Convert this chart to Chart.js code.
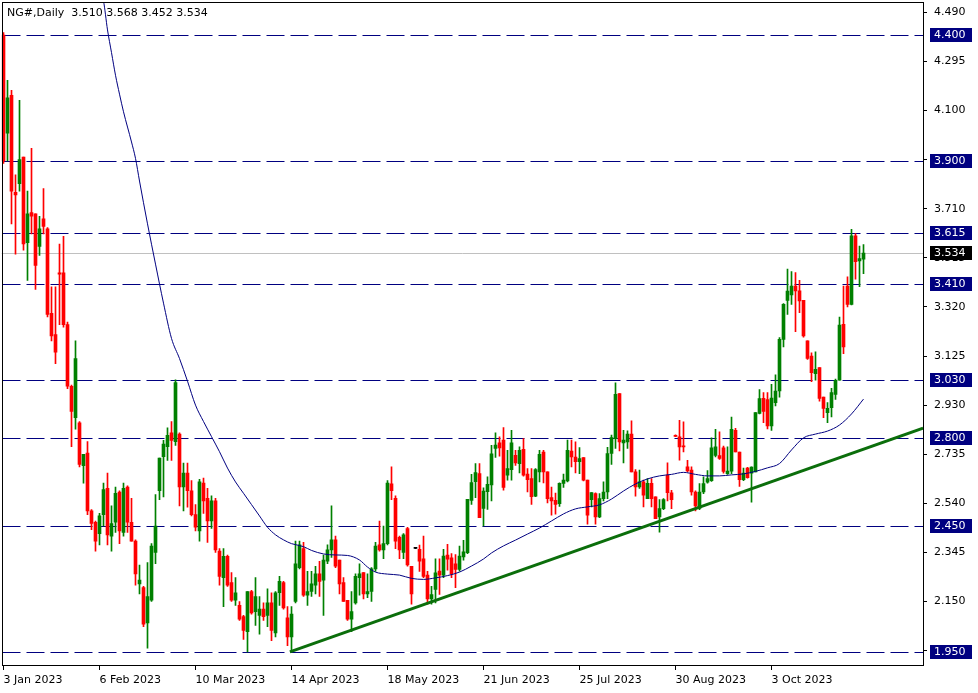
<!DOCTYPE html>
<html>
<head>
<meta charset="utf-8">
<script src="https://cdn.jsdelivr.net/npm/chart.js@4.4.0/dist/chart.umd.min.js"></script>
<style>
  html, body { margin: 0; padding: 0; background: #fff; }
  #wrap { width: 978px; height: 693px; }
</style>
</head>
<body>
<div id="wrap"><canvas id="chart"></canvas></div>
<script>
// daily bars, index 0 = 3 Jan 2023
const opens = [
  4.400,4.010,4.160,3.775,3.810,3.915,3.575,3.695,3.690,3.560,
  3.670,3.630,3.295,3.210,3.455,3.455,3.250,3.005,2.880,2.860,
  2.690,2.740,2.510,2.465,2.420,2.495,2.600,2.410,2.465,2.585,
  2.425,2.605,2.465,2.390,2.220,2.205,2.065,2.155,2.345,2.590,
  2.725,2.765,2.820,2.785,2.815,2.605,2.660,2.590,2.495,2.430,
  2.620,2.560,2.470,2.550,2.350,2.245,2.330,2.225,2.155,2.135,
  2.090,2.030,2.190,2.110,2.095,2.120,2.095,2.145,2.025,2.185,
  2.225,2.085,2.010,2.150,2.285,2.360,2.175,2.190,2.215,2.260,
  2.235,2.310,2.355,2.395,2.315,2.225,2.155,2.080,2.145,2.245,
  2.265,2.180,2.190,2.280,2.375,2.355,2.380,2.617,2.560,2.405,
  2.345,2.440,2.290,2.361,2.357,2.320,2.255,2.160,2.198,2.271,
  2.255,2.335,2.324,2.300,2.278,2.327,2.344,2.552,2.626,2.658,
  2.520,2.586,2.613,2.758,2.780,2.791,2.652,2.674,2.731,2.698,
  2.754,2.656,2.638,2.568,2.665,2.744,2.665,2.563,2.552,2.539,
  2.619,2.629,2.748,2.724,2.705,2.722,2.632,2.555,2.579,2.486,
  2.559,2.585,2.738,2.797,2.976,2.780,2.784,2.815,2.665,2.605,
  2.625,2.559,2.619,2.566,2.486,2.519,2.652,2.582,2.810,2.804,
  2.767,2.685,2.672,2.585,2.520,2.585,2.624,2.630,2.730,2.730,
  2.760,2.658,2.668,2.830,2.744,2.634,2.680,2.660,2.665,2.897,
  2.957,2.952,2.847,2.940,2.986,3.191,3.346,3.368,3.403,3.384,
  3.346,3.185,3.125,3.055,3.079,2.962,2.900,2.920,2.973,3.029,
  3.251,3.403,3.330,3.602,3.503,3.510
];
const highs = [
  4.410,4.220,4.180,3.845,4.140,3.915,3.780,3.950,3.690,3.680,
  3.790,3.635,3.400,3.400,3.570,3.600,3.260,3.010,3.185,2.865,
  2.735,2.785,2.515,2.470,2.500,2.620,2.660,2.530,2.605,2.590,
  2.620,2.610,2.560,2.395,2.295,2.210,2.305,2.380,2.575,2.720,
  2.790,2.840,2.865,3.030,2.820,2.700,2.700,2.630,2.535,2.635,
  2.640,2.600,2.570,2.560,2.360,2.360,2.335,2.265,2.245,2.150,
  2.095,2.190,2.195,2.245,2.170,2.145,2.200,2.185,2.190,2.250,
  2.230,2.130,2.130,2.390,2.390,2.385,2.270,2.270,2.290,2.310,
  2.335,2.375,2.530,2.410,2.315,2.245,2.155,2.190,2.260,2.300,
  2.265,2.260,2.285,2.385,2.470,2.450,2.630,2.685,2.570,2.410,
  2.420,2.445,2.290,2.362,2.374,2.410,2.270,2.210,2.320,2.320,
  2.357,2.377,2.340,2.337,2.370,2.393,2.556,2.655,2.698,2.698,
  2.602,2.645,2.770,2.820,2.804,2.841,2.751,2.830,2.751,2.764,
  2.797,2.678,2.678,2.678,2.751,2.751,2.665,2.605,2.581,2.621,
  2.656,2.791,2.791,2.784,2.761,2.722,2.632,2.583,2.582,2.579,
  2.625,2.762,2.811,3.019,2.976,2.830,2.828,2.868,2.674,2.672,
  2.632,2.638,2.638,2.566,2.555,2.559,2.701,2.592,2.812,2.870,
  2.864,2.711,2.685,2.590,2.618,2.645,2.670,2.800,2.834,2.824,
  2.767,2.764,2.883,2.838,2.744,2.680,2.683,2.685,2.900,2.992,
  2.980,2.980,3.013,3.050,3.198,3.333,3.470,3.460,3.456,3.426,
  3.346,3.185,3.138,3.142,3.079,2.962,2.940,2.997,3.033,3.280,
  3.403,3.440,3.628,3.611,3.562,3.568
];
const lows = [
  3.890,3.900,3.650,3.530,3.780,3.545,3.425,3.610,3.390,3.525,
  3.610,3.280,3.185,3.095,3.250,3.240,2.995,2.765,2.835,2.685,
  2.620,2.495,2.435,2.350,2.375,2.450,2.375,2.350,2.425,2.380,
  2.410,2.425,2.390,2.215,2.180,2.050,1.965,2.150,2.300,2.555,
  2.565,2.710,2.710,2.770,2.530,2.510,2.525,2.490,2.430,2.390,
  2.500,2.385,2.440,2.345,2.215,2.130,2.210,2.150,2.135,2.075,
  2.000,1.950,2.100,2.055,2.020,2.075,2.050,1.995,2.010,2.135,
  2.120,1.975,1.955,2.145,2.280,2.170,2.135,2.170,2.180,2.170,
  2.095,2.300,2.325,2.285,2.180,2.150,2.075,2.030,2.140,2.175,
  2.160,2.165,2.150,2.270,2.350,2.320,2.375,2.555,2.360,2.320,
  2.320,2.290,2.140,2.360,2.270,2.245,2.140,2.140,2.145,2.178,
  2.245,2.275,2.245,2.205,2.271,2.314,2.340,2.536,2.563,2.483,
  2.450,2.516,2.550,2.722,2.727,2.592,2.632,2.632,2.691,2.661,
  2.648,2.585,2.536,2.566,2.625,2.621,2.542,2.493,2.497,2.528,
  2.603,2.625,2.685,2.661,2.658,2.629,2.457,2.526,2.457,2.483,
  2.550,2.559,2.695,2.758,2.748,2.701,2.758,2.665,2.568,2.599,
  2.526,2.559,2.526,2.479,2.426,2.515,2.550,2.519,2.805,2.711,
  2.744,2.665,2.572,2.510,2.515,2.578,2.620,2.627,2.724,2.714,
  2.660,2.655,2.658,2.744,2.607,2.630,2.640,2.545,2.665,2.895,
  2.860,2.836,2.830,2.927,2.962,3.161,3.290,3.330,3.222,3.297,
  3.200,3.112,3.023,3.029,2.946,2.880,2.860,2.883,2.953,3.029,
  3.134,3.320,3.328,3.430,3.400,3.452
];
const closes = [
  3.900,4.150,3.780,3.765,3.905,3.570,3.690,3.680,3.485,3.630,
  3.640,3.290,3.205,3.140,3.450,3.250,3.005,2.905,3.115,2.695,
  2.735,2.510,2.460,2.390,2.490,2.595,2.415,2.460,2.580,2.430,
  2.600,2.465,2.390,2.260,2.235,2.060,2.170,2.370,2.450,2.720,
  2.775,2.810,2.790,3.020,2.605,2.660,2.590,2.495,2.445,2.625,
  2.550,2.470,2.550,2.355,2.250,2.330,2.215,2.155,2.185,2.080,
  2.035,2.190,2.105,2.170,2.120,2.090,2.145,2.035,2.185,2.230,
  2.125,2.010,2.100,2.300,2.375,2.175,2.190,2.220,2.260,2.230,
  2.315,2.355,2.395,2.290,2.220,2.150,2.080,2.110,2.250,2.260,
  2.180,2.190,2.280,2.370,2.355,2.380,2.620,2.590,2.390,2.355,
  2.415,2.295,2.180,2.361,2.310,2.250,2.160,2.178,2.264,2.255,
  2.331,2.318,2.260,2.278,2.331,2.347,2.556,2.622,2.662,2.483,
  2.589,2.615,2.737,2.771,2.760,2.603,2.678,2.780,2.701,2.751,
  2.652,2.634,2.566,2.674,2.735,2.665,2.559,2.550,2.536,2.619,
  2.632,2.751,2.724,2.705,2.718,2.632,2.493,2.583,2.486,2.559,
  2.585,2.738,2.801,2.973,2.784,2.791,2.815,2.665,2.605,2.625,
  2.572,2.619,2.559,2.479,2.519,2.555,2.582,2.555,2.806,2.764,
  2.764,2.669,2.585,2.530,2.585,2.618,2.638,2.760,2.764,2.718,
  2.667,2.668,2.834,2.744,2.634,2.660,2.642,2.684,2.900,2.956,
  2.905,2.847,2.958,2.986,3.191,3.330,3.383,3.403,3.384,3.344,
  3.205,3.116,3.059,3.072,2.957,2.917,2.917,2.980,3.029,3.248,
  3.161,3.330,3.602,3.500,3.512,3.534
];

// moving average (bar index, price)
const maIdx = [24,25,26,27,28,29,30,32,33,34,36,38,40,42,44,46,48,50,52,54,56,58,60,62,64,66,68,70,72,75,77,80,83,86,89,91,93,96,99,102,105,108,111,114,117,120,122,125,128,131,134,137,140,143,146,149,152,155,158,161,164,167,170,173,176,179,182,185,188,191,194,197,200,203,206,209,212,215];
const maVal = [4.58,4.535,4.42,4.33,4.24,4.165,4.095,3.975,3.91,3.82,3.65,3.49,3.335,3.195,3.115,3.025,2.93,2.865,2.805,2.745,2.68,2.625,2.58,2.535,2.49,2.445,2.415,2.395,2.38,2.368,2.353,2.339,2.335,2.333,2.315,2.287,2.267,2.259,2.255,2.242,2.238,2.244,2.253,2.267,2.291,2.319,2.343,2.371,2.394,2.418,2.442,2.47,2.498,2.518,2.526,2.534,2.557,2.589,2.617,2.637,2.649,2.655,2.663,2.655,2.649,2.649,2.653,2.657,2.667,2.681,2.698,2.752,2.80,2.815,2.827,2.851,2.895,2.954];

// support trend line
const trendIdx = [71.6, 229.9];
const trendVal = [1.950, 2.839];

const levels = [4.400, 3.900, 3.615, 3.410, 3.030, 2.800, 2.450, 1.950];
const bid = 3.534;
const yTicks = [4.490, 4.295, 4.100, 3.905, 3.710, 3.515, 3.320, 3.125, 2.930, 2.735, 2.540, 2.345, 2.150, 1.955];
const dateIdx = [0, 24, 48, 72, 96, 120, 144, 168, 192];
const dateLabels = ['3 Jan 2023', '6 Feb 2023', '10 Mar 2023', '14 Apr 2023', '18 May 2023', '21 Jun 2023', '25 Jul 2023', '30 Aug 2023', '3 Oct 2023'];
const title = 'NG#,Daily  3.510 3.568 3.452 3.534';

const FONT = '"DejaVu Sans"';
const colors = opens.map((o, i) => closes[i] > o ? '#008000' : (closes[i] < o ? '#ff0000' : '#000000'));
const bodies = opens.map((o, i) => ({x: i, y: [o, closes[i]]}));
const wicks = lows.map((l, i) => ({x: i, y: [l, highs[i]]}));
const ma = maIdx.map((k, j) => ({x: k, y: maVal[j]}));
const trend = trendIdx.map((k, j) => ({x: k, y: trendVal[j]}));

const noPad = s => { s.paddingTop = 0; s.paddingBottom = 0; s.paddingLeft = 0; s.paddingRight = 0; };

const overlay = {
  id: 'overlay',
  beforeDatasetsDraw(chart) {
    const {ctx, chartArea: a, scales: {y}} = chart;
    ctx.save();
    ctx.beginPath();
    ctx.rect(a.left, a.top, a.right - a.left, a.bottom - a.top);
    ctx.clip();
    ctx.lineWidth = 1;
    ctx.strokeStyle = '#c0c0c0';
    const by = Math.round(y.getPixelForValue(bid)) + 0.5;
    ctx.beginPath(); ctx.moveTo(a.left, by); ctx.lineTo(a.right, by); ctx.stroke();
    ctx.strokeStyle = '#000080';
    ctx.setLineDash([18, 6]);
    levels.forEach(v => {
      const yy = Math.round(y.getPixelForValue(v)) + 0.5;
      ctx.beginPath(); ctx.moveTo(a.left + 1, yy); ctx.lineTo(a.right, yy); ctx.stroke();
    });
    ctx.restore();
  },
  afterDraw(chart) {
    const {ctx, chartArea: a, scales: {y}} = chart;
    ctx.save();
    ctx.strokeStyle = '#000';
    ctx.lineWidth = 1;
    const l = Math.round(a.left) + 0.5, t = Math.round(a.top) - 0.5;
    const r = Math.round(a.right) + 0.5, b = Math.round(a.bottom) + 0.5;
    ctx.strokeRect(l, t, r - l, b - t);
    ctx.font = '11px ' + FONT;
    ctx.textBaseline = 'middle';
    const box = (v, bg) => {
      const yy = Math.round(y.getPixelForValue(v));
      ctx.fillStyle = bg;
      ctx.fillRect(930, yy - 7, 42, 14);
      ctx.fillStyle = '#fff';
      ctx.fillText(v.toFixed(3), 934, yy + 0.5);
    };
    levels.forEach(v => box(v, '#000080'));
    box(bid, '#000');
    ctx.fillStyle = '#000';
    ctx.textBaseline = 'alphabetic';
    ctx.fillText(title, 7, 16);
    ctx.restore();
  }
};

new Chart(document.getElementById('chart'), {
  type: 'bar',
  data: {
    datasets: [
      {type: 'line', data: trend, borderColor: '#0b6e0b', borderWidth: 3, pointRadius: 0, order: 0},
      {type: 'line', data: ma, borderColor: '#000080', borderWidth: 1, pointRadius: 0, cubicInterpolationMode: 'monotone', order: 1},
      {data: bodies, backgroundColor: colors, barThickness: 3, minBarLength: 1, grouped: false, order: 2},
      {data: wicks, backgroundColor: colors, barThickness: 1, grouped: false, order: 3}
    ]
  },
  options: {
    responsive: true,
    maintainAspectRatio: false,
    animation: false,
    layout: {padding: {left: 1.5, top: 3, right: 0, bottom: 0}},
    plugins: {legend: {display: false}, tooltip: {enabled: false}},
    scales: {
      x: {
        type: 'linear',
        min: -0.5,
        max: 229.875,
        offset: false,
        afterBuildTicks: s => { s.ticks = dateIdx.map(v => ({value: v})); },
        afterFit: s => { s.height = 28; noPad(s); },
        border: {display: false},
        grid: {offset: false, drawOnChartArea: false, drawTicks: true, tickLength: 5, color: '#000'},
        ticks: {
          autoSkip: false, maxRotation: 0, minRotation: 0, align: 'start', padding: 4,
          color: '#000', font: {family: FONT, size: 11},
          callback: v => { const k = dateIdx.indexOf(v); return k >= 0 ? dateLabels[k] : ''; }
        }
      },
      y: {
        type: 'linear',
        position: 'right',
        min: 1.898,
        max: 4.527,
        afterBuildTicks: s => { s.ticks = yTicks.map(v => ({value: v})); },
        afterFit: s => { s.width = 55; noPad(s); },
        border: {display: false},
        grid: {drawOnChartArea: false, drawTicks: true, tickLength: 4, color: '#000'},
        ticks: {
          autoSkip: false, padding: 7, color: '#000', font: {family: FONT, size: 11},
          callback: v => Number(v).toFixed(3)
        }
      }
    }
  },
  plugins: [overlay]
});
</script>
</body>
</html>
